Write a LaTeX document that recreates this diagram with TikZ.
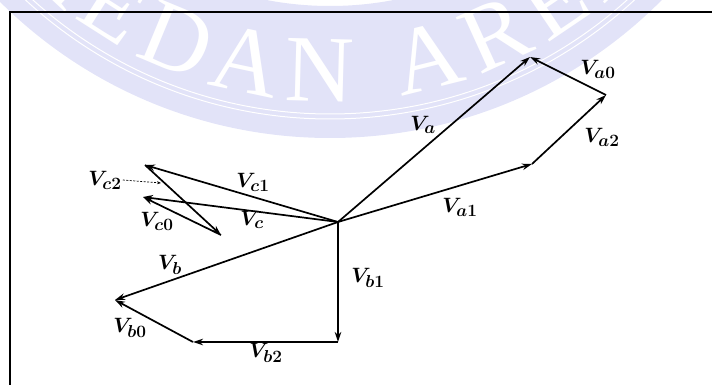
\documentclass[tikz,border=0pt]{standalone}
\usepackage{fontspec}
\usepackage{bm}
\newfontfamily\wmfont{Liberation Serif}
\DeclareMathSizes{20}{20}{17}{12}
\usetikzlibrary{arrows.meta}
\definecolor{wmblue}{RGB}{226,227,248}

\begin{document}
\begin{tikzpicture}[
    x=1pt, y=1pt,
    phasor/.style={-{Stealth[length=10pt, width=6.5pt]}, line width=1.7pt},
    lbl/.style={inner sep=1pt, font=\fontsize{20}{24}\selectfont},
    pointer/.style={-{Stealth[length=4pt, width=3pt]}, dash pattern=on 2pt off 1.5pt, line width=0.7pt},
    wmletter/.style={text=white, font=\wmfont\fontsize{95}{95}\selectfont, inner sep=0pt},
    frameline/.style={line width=1.8pt}
]
\useasboundingbox (0,0) rectangle (712,385);
\begin{scope}
\clip (0,0) rectangle (712,385);
\fill[wmblue, even odd rule] (330,715) circle (468) (330,715) circle (336);
\draw[white, line width=1pt] (330,715) circle (444) (330,715) circle (449);
\begin{scope}[shift={(330,715)}]
\foreach \ang/\ch [count=\i] in {-43/M,-32.5/E,-22.5/D,-12/A,-1.5/N,14/A,24.5/R,34/E,44/A}
  \node[wmletter, rotate=\ang] (wm\i) at (-90+\ang:400) {\ch};
\end{scope}
\end{scope}
\draw[frameline] (10,0) -- (10,373) -- (712,373);

\coordinate (O) at (338,163);
\coordinate (Ta) at (530,328);
\coordinate (Ta1) at (532,221);
\coordinate (Ta2) at (606,290);
\coordinate (Tb) at (115,85);
\coordinate (Tb1) at (338,43);
\coordinate (Tb2) at (193,43);
\coordinate (Tc) at (143,188);
\coordinate (Tc1) at (145,220);
\coordinate (Tc2) at (221,150);
\coordinate (pc2) at (161,202);

\draw[phasor] (O) -- (Ta);
\draw[phasor] (O) -- (Ta1);
\draw[phasor] (Ta1) -- (Ta2);
\draw[phasor] (Ta2) -- (Ta);
\draw[phasor] (O) -- (Tb);
\draw[phasor] (O) -- (Tb1);
\draw[phasor] (Tb1) -- (Tb2);
\draw[phasor] (Tb2) -- (Tb);
\draw[phasor] (O) -- (Tc);
\draw[phasor] (O) -- (Tc1);
\draw[phasor] (Tc1) -- (Tc2);
\draw[phasor] (Tc2) -- (Tc);

\node[lbl] (lVa) at (423,260) {$\bm{V_{a}}$};
\node[lbl] (lVa0) at (598,316) {$\bm{V_{a0}}$};
\node[lbl] (lVa1) at (460,178) {$\bm{V_{a1}}$};
\node[lbl] (lVa2) at (602,248) {$\bm{V_{a2}}$};
\node[lbl] (lVb) at (170,120) {$\bm{V_{b}}$};
\node[lbl] (lVb0) at (130,57) {$\bm{V_{b0}}$};
\node[lbl] (lVb1) at (368,107) {$\bm{V_{b1}}$};
\node[lbl] (lVb2) at (266,32) {$\bm{V_{b2}}$};
\node[lbl] (lVc) at (252,165) {$\bm{V_{c}}$};
\node[lbl] (lVc0) at (157,164) {$\bm{V_{c0}}$};
\node[lbl] (lVc1) at (253,203) {$\bm{V_{c1}}$};
\node[lbl] (lVc2) at (105,205) {$\bm{V_{c2}}$};
\draw[pointer] (lVc2.east) -- (pc2);
\end{tikzpicture}
\end{document}
